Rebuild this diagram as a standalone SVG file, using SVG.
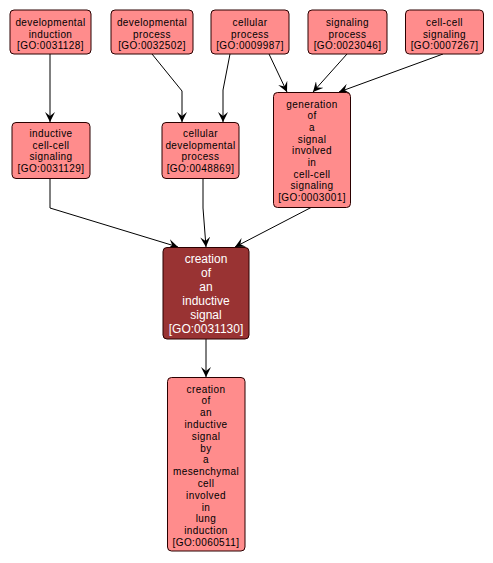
<svg xmlns="http://www.w3.org/2000/svg" width="493" height="563" viewBox="0 0 493 563">
<style>
.n rect{fill:#ff8c8c;stroke:#2a0000;stroke-width:1}
.n text{font-family:"Liberation Sans",Arial,sans-serif;font-size:10px;letter-spacing:0.4px;fill:#000;text-anchor:middle}
.d rect{fill:#993333;stroke:#2a0000;stroke-width:1}
.d text{font-family:"Liberation Sans",Arial,sans-serif;font-size:12px;fill:#fff;text-anchor:middle}
.e path{fill:none;stroke:#000;stroke-width:1;marker-end:url(#ah)}
</style>
<defs>
<marker id="ah" viewBox="0 0 10 10" refX="10" refY="5" markerWidth="10" markerHeight="10" markerUnits="userSpaceOnUse" orient="auto">
<path d="M0,0 L10,5 L0,10 L4,5 z" fill="#000"/>
</marker>
</defs>
<rect width="493" height="563" fill="#fff"/>
<g id="edges" class="e">
<path d="M50,54 L50,122"/>
<path d="M152,54 L182,91 L182,122"/>
<path d="M230,54 L223,90 L223,122"/>
<path d="M269,54 L287,92"/>
<path d="M347,54 L313,92"/>
<path d="M443,54 L339,92"/>
<path d="M50,178 L50,208 L178,247"/>
<path d="M203,178 L203,208 L206,247"/>
<path d="M312,207 L235,247"/>
<path d="M206,339 L206,377"/>
</g>
<g id="GO0031128" class="n">
<rect x="10" y="10" width="81" height="44" rx="4"/>
<text x="50.5" y="26">developmental</text>
<text x="50.5" y="37.5">induction</text>
<text x="50.5" y="49">[GO:0031128]</text>
</g>
<g id="GO0032502" class="n">
<rect x="111" y="10" width="82" height="44" rx="4"/>
<text x="152" y="26">developmental</text>
<text x="152" y="37.5">process</text>
<text x="152" y="49">[GO:0032502]</text>
</g>
<g id="GO0009987" class="n">
<rect x="211" y="10" width="78" height="44" rx="4"/>
<text x="250" y="26">cellular</text>
<text x="250" y="37.5">process</text>
<text x="250" y="49">[GO:0009987]</text>
</g>
<g id="GO0023046" class="n">
<rect x="308" y="10" width="79" height="44" rx="4"/>
<text x="347.5" y="26">signaling</text>
<text x="347.5" y="37.5">process</text>
<text x="347.5" y="49">[GO:0023046]</text>
</g>
<g id="GO0007267" class="n">
<rect x="405.5" y="10" width="78" height="44" rx="4"/>
<text x="444.5" y="26">cell-cell</text>
<text x="444.5" y="37.5">signaling</text>
<text x="444.5" y="49">[GO:0007267]</text>
</g>
<g id="GO0031129" class="n">
<rect x="12" y="122.5" width="78" height="56" rx="4"/>
<text x="51" y="137">inductive</text>
<text x="51" y="148.5">cell-cell</text>
<text x="51" y="160">signaling</text>
<text x="51" y="171.5">[GO:0031129]</text>
</g>
<g id="GO0048869" class="n">
<rect x="162" y="122.5" width="77" height="56" rx="4"/>
<text x="200.5" y="137">cellular</text>
<text x="200.5" y="148.5">developmental</text>
<text x="200.5" y="160">process</text>
<text x="200.5" y="171.5">[GO:0048869]</text>
</g>
<g id="GO0003001" class="n">
<rect x="273.5" y="92.5" width="77" height="115" rx="4"/>
<text x="312" y="107.5">generation</text>
<text x="312" y="119.2">of</text>
<text x="312" y="130.9">a</text>
<text x="312" y="142.6">signal</text>
<text x="312" y="154.3">involved</text>
<text x="312" y="166">in</text>
<text x="312" y="177.7">cell-cell</text>
<text x="312" y="189.4">signaling</text>
<text x="312" y="201.1">[GO:0003001]</text>
</g>
<g id="GO0031130" class="d">
<rect x="163" y="247.5" width="86" height="91.5" rx="4"/>
<text x="206" y="262.5">creation</text>
<text x="206" y="276.6">of</text>
<text x="206" y="290.7">an</text>
<text x="206" y="304.8">inductive</text>
<text x="206" y="318.9">signal</text>
<text x="206" y="333">[GO:0031130]</text>
</g>
<g id="GO0060511" class="n">
<rect x="167.5" y="377.5" width="77.5" height="173.5" rx="4"/>
<text x="206" y="392.5">creation</text>
<text x="206" y="404.3">of</text>
<text x="206" y="416.1">an</text>
<text x="206" y="427.9">inductive</text>
<text x="206" y="439.7">signal</text>
<text x="206" y="451.5">by</text>
<text x="206" y="463.3">a</text>
<text x="206" y="475.1">mesenchymal</text>
<text x="206" y="486.9">cell</text>
<text x="206" y="498.7">involved</text>
<text x="206" y="510.5">in</text>
<text x="206" y="522.3">lung</text>
<text x="206" y="534.1">induction</text>
<text x="206" y="545.9">[GO:0060511]</text>
</g>
</svg>
